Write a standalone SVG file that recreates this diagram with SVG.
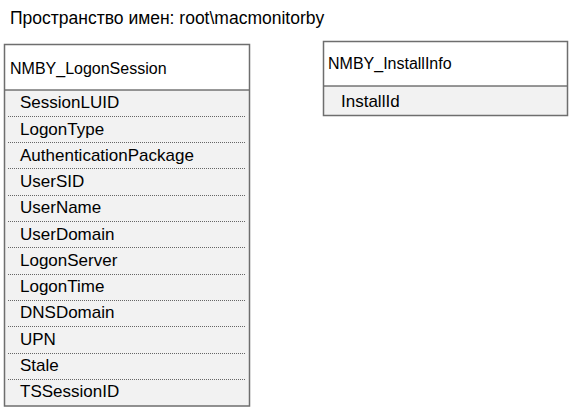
<svg xmlns="http://www.w3.org/2000/svg" width="570" height="412" viewBox="0 0 570 412">
<style>
text{font-family:"Liberation Sans",Arial,sans-serif;font-size:16px;fill:#000}
.row{font-size:17px}
.ttl{font-size:17.5px}
.hdr{fill:#fff;stroke:none}
.body{fill:#f2f2f2;stroke:none}
.frame{fill:none;stroke:#6e6e6e;stroke-width:1.5}
.sep{stroke:#333;stroke-width:1.2}
.dot{stroke:#666;stroke-width:1;stroke-dasharray:1 1}
</style>
<rect width="570" height="412" fill="#fff"/>
<text id="title" class="ttl" x="10" y="24">Пространство имен: root\macmonitorby</text>
<g id="NMBY_LogonSession">
<rect class="hdr" x="4.5" y="44.5" width="245" height="45.5"/>
<rect class="body" x="4.5" y="90" width="245" height="316"/>
<text x="10" y="74">NMBY_LogonSession</text>
<line class="sep" x1="4.5" y1="90" x2="249.5" y2="90"/>
<g class="dots">
<line class="dot" x1="8" y1="116.5" x2="246" y2="116.5"/>
<line class="dot" x1="8" y1="142.5" x2="246" y2="142.5"/>
<line class="dot" x1="8" y1="168.5" x2="246" y2="168.5"/>
<line class="dot" x1="8" y1="195.5" x2="246" y2="195.5"/>
<line class="dot" x1="8" y1="221.5" x2="246" y2="221.5"/>
<line class="dot" x1="8" y1="247.5" x2="246" y2="247.5"/>
<line class="dot" x1="8" y1="274.5" x2="246" y2="274.5"/>
<line class="dot" x1="8" y1="300.5" x2="246" y2="300.5"/>
<line class="dot" x1="8" y1="326.5" x2="246" y2="326.5"/>
<line class="dot" x1="8" y1="353.5" x2="246" y2="353.5"/>
<line class="dot" x1="8" y1="379.5" x2="246" y2="379.5"/>
</g>
<text class="row" x="20" y="108">SessionLUID</text>
<text class="row" x="20" y="135">LogonType</text>
<text class="row" x="20" y="161">AuthenticationPackage</text>
<text class="row" x="20" y="187">UserSID</text>
<text class="row" x="20" y="213">UserName</text>
<text class="row" x="20" y="240">UserDomain</text>
<text class="row" x="20" y="266">LogonServer</text>
<text class="row" x="20" y="292">LogonTime</text>
<text class="row" x="20" y="318">DNSDomain</text>
<text class="row" x="20" y="345">UPN</text>
<text class="row" x="20" y="371">Stale</text>
<text class="row" x="20" y="397">TSSessionID</text>
<rect class="frame" x="4.5" y="44.5" width="245" height="361.5"/>
</g>
<g id="NMBY_InstallInfo">
<rect class="hdr" x="323.5" y="41.5" width="244" height="44.5"/>
<rect class="body" x="323.5" y="86" width="244" height="29.5"/>
<text x="328" y="69">NMBY_InstallInfo</text>
<line class="sep" x1="323.5" y1="86" x2="567.5" y2="86"/>
<text class="row" x="341" y="107">InstallId</text>
<rect class="frame" x="323.5" y="41.5" width="244" height="74"/>
</g>
<g id="connectors"/>
</svg>
